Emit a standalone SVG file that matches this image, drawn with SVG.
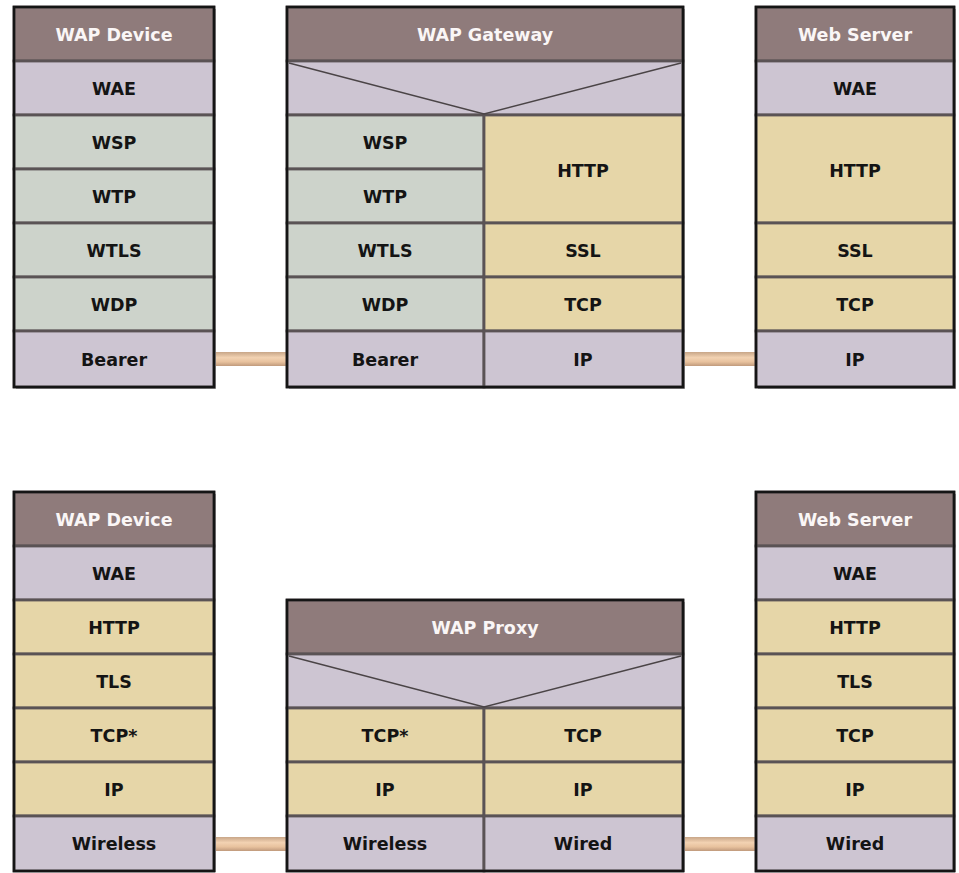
<svg xmlns="http://www.w3.org/2000/svg" width="959" height="873" viewBox="0 0 959 873">
<defs>
<linearGradient id="bar" x1="0" y1="0" x2="0" y2="1">
<stop offset="0" stop-color="#c8a688"/>
<stop offset="0.4" stop-color="#f2d2b2"/>
<stop offset="0.7" stop-color="#e8c29e"/>
<stop offset="1" stop-color="#c09a7c"/>
</linearGradient>
<style>
.hd{fill:#8f7b7b}
.lv{fill:#cdc5d2}
.gr{fill:#cdd3cb}
.tn{fill:#e6d6a8}
.c{stroke:#5a5355;stroke-width:2.8}
.ob{fill:none;stroke:#151515;stroke-width:2.5}
.sh{fill:#a8a8a8}
.t{font-family:"DejaVu Sans",Verdana,sans-serif;font-weight:bold;font-size:17.5px;fill:#141414;text-anchor:middle;dominant-baseline:central}
.w{fill:#faf6f6}
.v{fill:none;stroke:#4a4446;stroke-width:1.3}
.bar{fill:url(#bar)}
</style>
</defs>
<rect width="959" height="873" fill="#ffffff"/>

<g id="connectors">
<rect class="bar" x="214" y="352" width="73" height="14"/>
<rect class="bar" x="683" y="352" width="73" height="14"/>
<rect class="bar" x="214" y="837" width="73" height="14"/>
<rect class="bar" x="683" y="837" width="73" height="14"/>
</g>

<g id="top-wap-device">
<rect class="sh" x="16" y="9" width="200" height="380"/>
<rect class="hd c" x="14" y="7" width="200" height="54"/>
<rect class="lv c" x="14" y="61" width="200" height="54"/>
<rect class="gr c" x="14" y="115" width="200" height="54"/>
<rect class="gr c" x="14" y="169" width="200" height="54"/>
<rect class="gr c" x="14" y="223" width="200" height="54"/>
<rect class="gr c" x="14" y="277" width="200" height="54"/>
<rect class="lv c" x="14" y="331" width="200" height="56"/>
<rect class="ob" x="14" y="7" width="200" height="380"/>
<text class="t w" x="114" y="35">WAP Device</text>
<text class="t" x="114" y="89">WAE</text>
<text class="t" x="114" y="143">WSP</text>
<text class="t" x="114" y="197">WTP</text>
<text class="t" x="114" y="251">WTLS</text>
<text class="t" x="114" y="305">WDP</text>
<text class="t" x="114" y="360">Bearer</text>
</g>

<g id="wap-gateway">
<rect class="sh" x="289" y="9" width="396" height="380"/>
<rect class="hd c" x="287" y="7" width="396" height="54"/>
<rect class="lv c" x="287" y="61" width="396" height="54"/>
<rect class="gr c" x="287" y="115" width="197" height="54"/>
<rect class="gr c" x="287" y="169" width="197" height="54"/>
<rect class="gr c" x="287" y="223" width="197" height="54"/>
<rect class="gr c" x="287" y="277" width="197" height="54"/>
<rect class="lv c" x="287" y="331" width="197" height="56"/>
<rect class="tn c" x="484" y="115" width="199" height="108"/>
<rect class="tn c" x="484" y="223" width="199" height="54"/>
<rect class="tn c" x="484" y="277" width="199" height="54"/>
<rect class="lv c" x="484" y="331" width="199" height="56"/>
<polyline class="v" points="289,63 484,114 681,63"/>
<rect class="ob" x="287" y="7" width="396" height="380"/>
<text class="t w" x="485" y="35">WAP Gateway</text>
<text class="t" x="385" y="143">WSP</text>
<text class="t" x="385" y="197">WTP</text>
<text class="t" x="385" y="251">WTLS</text>
<text class="t" x="385" y="305">WDP</text>
<text class="t" x="385" y="360">Bearer</text>
<text class="t" x="583" y="171">HTTP</text>
<text class="t" x="583" y="251">SSL</text>
<text class="t" x="583" y="305">TCP</text>
<text class="t" x="583" y="360">IP</text>
</g>

<g id="top-web-server">
<rect class="sh" x="758" y="9" width="198" height="380"/>
<rect class="hd c" x="756" y="7" width="198" height="54"/>
<rect class="lv c" x="756" y="61" width="198" height="54"/>
<rect class="tn c" x="756" y="115" width="198" height="108"/>
<rect class="tn c" x="756" y="223" width="198" height="54"/>
<rect class="tn c" x="756" y="277" width="198" height="54"/>
<rect class="lv c" x="756" y="331" width="198" height="56"/>
<rect class="ob" x="756" y="7" width="198" height="380"/>
<text class="t w" x="855" y="35">Web Server</text>
<text class="t" x="855" y="89">WAE</text>
<text class="t" x="855" y="171">HTTP</text>
<text class="t" x="855" y="251">SSL</text>
<text class="t" x="855" y="305">TCP</text>
<text class="t" x="855" y="360">IP</text>
</g>

<g id="bottom-wap-device">
<rect class="sh" x="16" y="494" width="200" height="378"/>
<rect class="hd c" x="14" y="492" width="200" height="54"/>
<rect class="lv c" x="14" y="546" width="200" height="54"/>
<rect class="tn c" x="14" y="600" width="200" height="54"/>
<rect class="tn c" x="14" y="654" width="200" height="54"/>
<rect class="tn c" x="14" y="708" width="200" height="54"/>
<rect class="tn c" x="14" y="762" width="200" height="54"/>
<rect class="lv c" x="14" y="816" width="200" height="55"/>
<rect class="ob" x="14" y="492" width="200" height="379"/>
<text class="t w" x="114" y="520">WAP Device</text>
<text class="t" x="114" y="574">WAE</text>
<text class="t" x="114" y="628">HTTP</text>
<text class="t" x="114" y="682">TLS</text>
<text class="t" x="114" y="736">TCP*</text>
<text class="t" x="114" y="790">IP</text>
<text class="t" x="114" y="844">Wireless</text>
</g>

<g id="wap-proxy">
<rect class="sh" x="289" y="602" width="396" height="270"/>
<rect class="hd c" x="287" y="600" width="396" height="54"/>
<rect class="lv c" x="287" y="654" width="396" height="54"/>
<rect class="tn c" x="287" y="708" width="197" height="54"/>
<rect class="tn c" x="287" y="762" width="197" height="54"/>
<rect class="lv c" x="287" y="816" width="197" height="55"/>
<rect class="tn c" x="484" y="708" width="199" height="54"/>
<rect class="tn c" x="484" y="762" width="199" height="54"/>
<rect class="lv c" x="484" y="816" width="199" height="55"/>
<polyline class="v" points="289,656 484,707 681,656"/>
<rect class="ob" x="287" y="600" width="396" height="271"/>
<text class="t w" x="485" y="628">WAP Proxy</text>
<text class="t" x="385" y="736">TCP*</text>
<text class="t" x="385" y="790">IP</text>
<text class="t" x="385" y="844">Wireless</text>
<text class="t" x="583" y="736">TCP</text>
<text class="t" x="583" y="790">IP</text>
<text class="t" x="583" y="844">Wired</text>
</g>

<g id="bottom-web-server">
<rect class="sh" x="758" y="494" width="198" height="378"/>
<rect class="hd c" x="756" y="492" width="198" height="54"/>
<rect class="lv c" x="756" y="546" width="198" height="54"/>
<rect class="tn c" x="756" y="600" width="198" height="54"/>
<rect class="tn c" x="756" y="654" width="198" height="54"/>
<rect class="tn c" x="756" y="708" width="198" height="54"/>
<rect class="tn c" x="756" y="762" width="198" height="54"/>
<rect class="lv c" x="756" y="816" width="198" height="55"/>
<rect class="ob" x="756" y="492" width="198" height="379"/>
<text class="t w" x="855" y="520">Web Server</text>
<text class="t" x="855" y="574">WAE</text>
<text class="t" x="855" y="628">HTTP</text>
<text class="t" x="855" y="682">TLS</text>
<text class="t" x="855" y="736">TCP</text>
<text class="t" x="855" y="790">IP</text>
<text class="t" x="855" y="844">Wired</text>
</g>
</svg>
